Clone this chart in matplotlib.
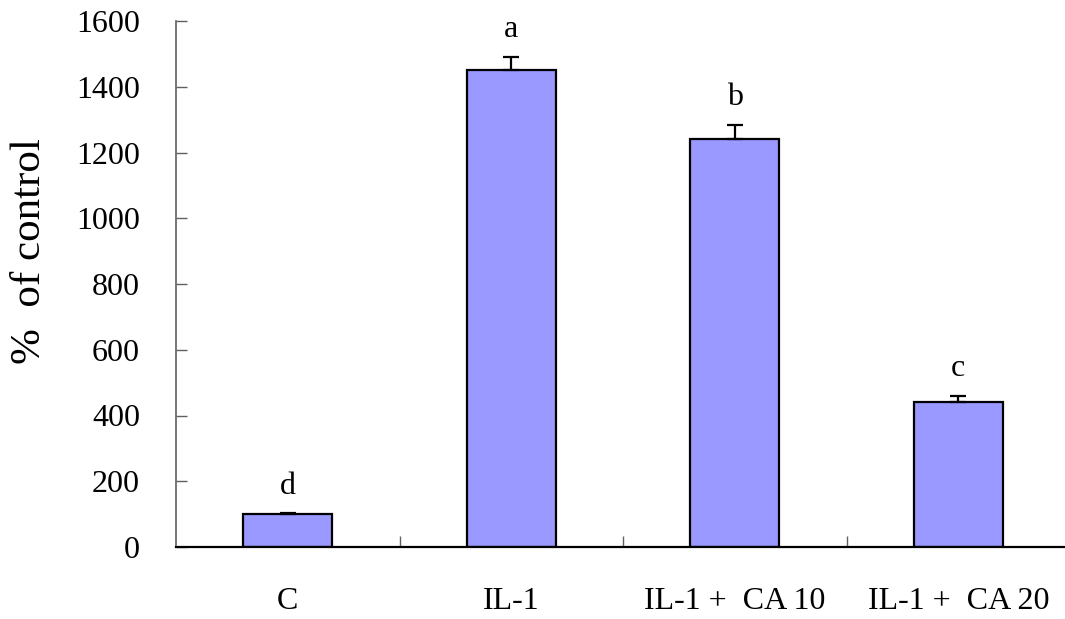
import matplotlib
matplotlib.use("Agg")
import matplotlib.pyplot as plt
import numpy as np

categories = ["C", "IL-1", "IL-1 +  CA 10", "IL-1 +  CA 20"]
values = [100, 1450, 1240, 440]
errors = [3, 42, 45, 20]
letters = ["d", "a", "b", "c"]
yticks = [0, 200, 400, 600, 800, 1000, 1200, 1400, 1600]

plt.rcParams["font.family"] = ["Liberation Serif", "DejaVu Serif"]

fig = plt.figure(figsize=(10.65, 6.19), dpi=100)
ax = fig.add_axes([176 / 1065, 1 - 547 / 619, (1070 - 176) / 1065, (547 - 21) / 619])

x = np.arange(len(categories))
ax.bar(x, values, width=0.4, color="#9999FF", edgecolor="black", linewidth=1.6, zorder=2)
ax.errorbar(x, values, yerr=[np.zeros(len(errors)), errors], fmt="none",
            ecolor="black", elinewidth=1.6, capsize=5.5, capthick=1.6, zorder=3)

for xi, v, e, lab in zip(x, values, errors, letters):
    ax.text(xi, v + e + 38, lab, ha="center", va="bottom", fontsize=23)

ax.set_xlim(-0.5, len(categories) - 0.5)
ax.set_ylim(0, 1600)
ax.set_yticks(yticks)
ax.set_yticklabels([str(t) for t in yticks])

# category ticks sit on the boundaries between groups
ax.set_xticks(x)
ax.set_xticklabels(categories)
ax.tick_params(axis="x", which="major", length=0, pad=29, labelsize=23)
ax.set_xticks(x[:-1] + 0.5, minor=True)
ax.tick_params(axis="x", which="minor", direction="in", length=8, width=1, color="#606060")
ax.tick_params(axis="y", direction="in", length=8, width=1, color="#606060", pad=26, labelsize=23)

for side in ("top", "right"):
    ax.spines[side].set_visible(False)
ax.spines["left"].set_color("#606060")
ax.spines["left"].set_linewidth(1.2)
ax.spines["bottom"].set_color("black")
ax.spines["bottom"].set_linewidth(1.6)

fig.text(30 / 1065, 1 - 251 / 619, "%  of control", rotation=90,
         ha="center", va="center", fontsize=31)

fig.savefig("out.png", dpi=100)
